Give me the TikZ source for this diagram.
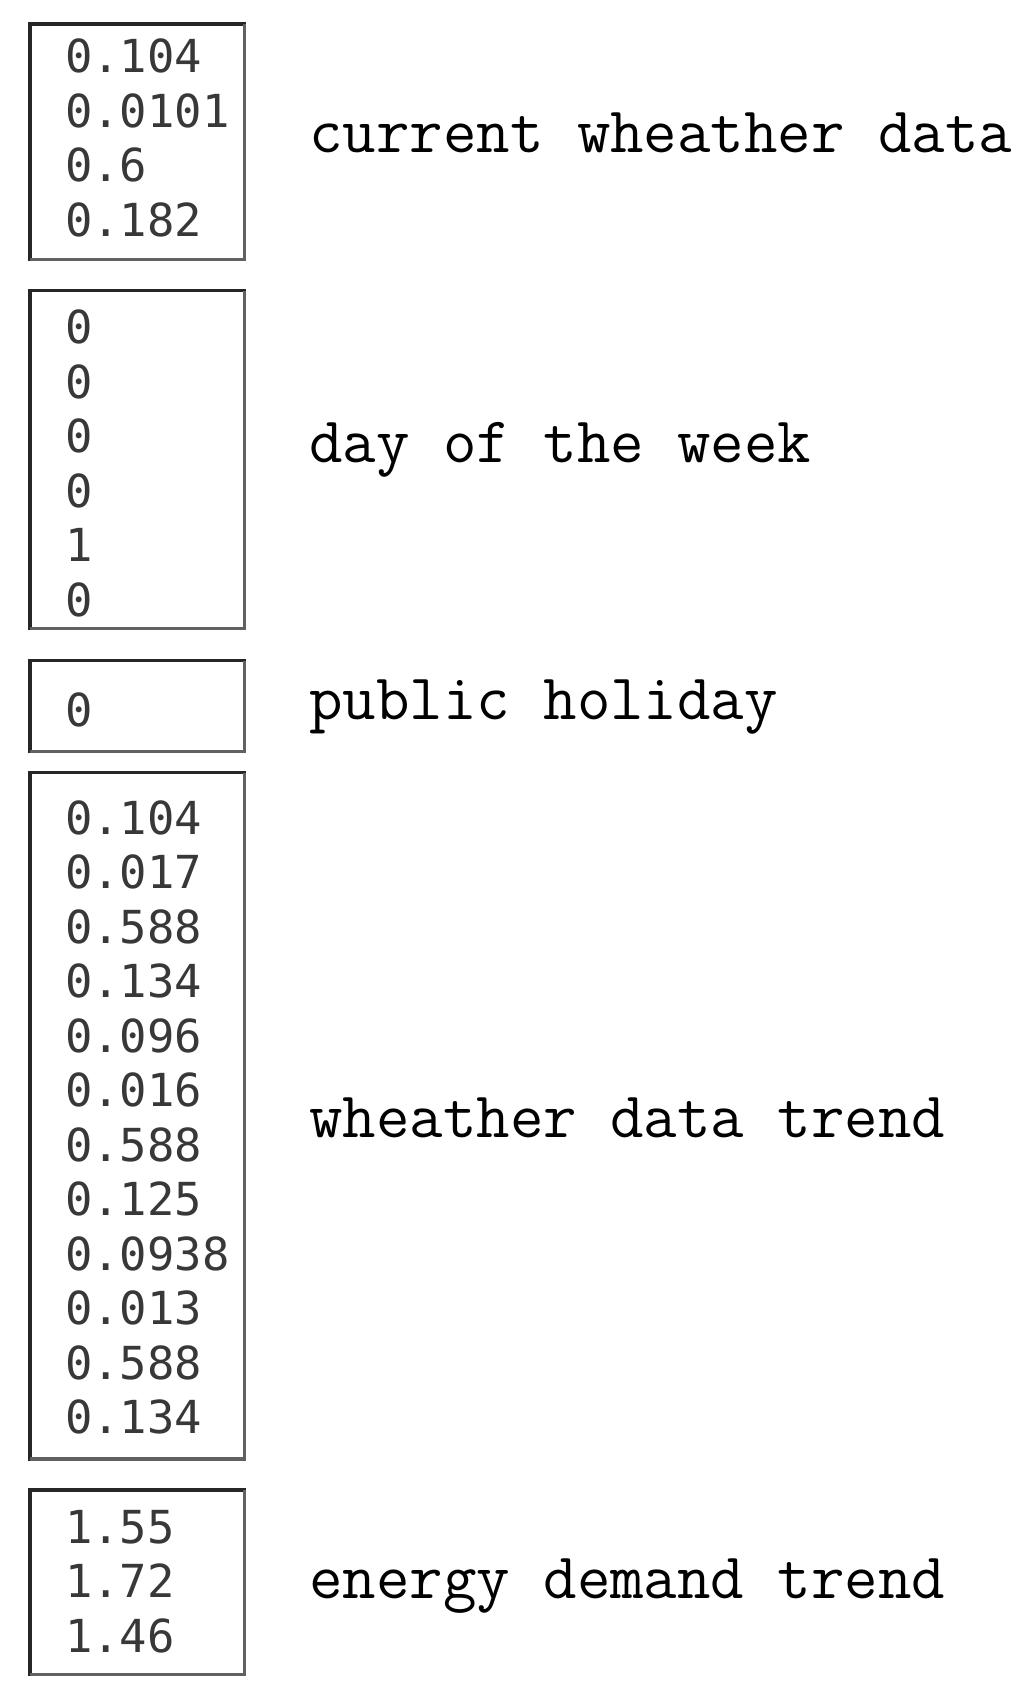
\documentclass[tikz,border=0pt]{standalone}
\usepackage{fontspec}
\newfontfamily\numfont{DejaVu Sans Mono}
\usepackage{tikz}

\tikzset{
  databox/.style={draw=black!85, line width=3.2pt, minimum width=214.5pt, outer sep=0pt, inner sep=0pt},
  boxshade/.style={draw=black!62, line width=3.2pt},
  values/.style={anchor=base west, align=left, inner sep=0pt, text=black!78, font=\numfont\fontsize{45.5}{54.5}\selectfont},
  tag/.style={anchor=base west, inner sep=0pt, font=\ttfamily\fontsize{65}{70}\selectfont}
}

\begin{document}
\begin{tikzpicture}[x=1pt,y=-1pt]
				\useasboundingbox (0,0) rectangle (1030,1702);
				% Define left edges of the numbers and of the labels.
				\def\numx{65}      %left of the numbers
				\def\tagx{309}     %left of the labels
				
				% Boxes.
				\node[databox, minimum height=235.5pt] (weather) at (137.25,141.75) {};
				\node[databox, minimum height=338pt] (weekday) at (137.25,459.5) {};
				\node[databox, minimum height=91pt] (holiday) at (137.25,706) {};
				\node[databox, minimum height=686.5pt] (trend) at (137.25,1115.75) {};
				\node[databox, minimum height=184.7pt] (demand) at (137.25,1582.35) {};
				
				% Lighter right and bottom edges.
				\draw[boxshade] (weather.north east) -- (weather.south east) -- (weather.south west);
				\draw[boxshade] (weekday.north east) -- (weekday.south east) -- (weekday.south west);
				\draw[boxshade] (holiday.north east) -- (holiday.south east) -- (holiday.south west);
				\draw[boxshade] (trend.north east) -- (trend.south east) -- (trend.south west);
				\draw[boxshade] (demand.north east) -- (demand.south east) -- (demand.south west);
				
				% Values inside the boxes (base = baseline of the last line).
				\node[values] (weathervals) at (\numx,236) {0.104\\0.0101\\0.6\\0.182};
				\node[values] (weekdayvals) at (\numx,616) {0\\0\\0\\0\\1\\0};
				\node[values] (holidayvals) at (\numx,726) {0};
				\node[values] (trendvals) at (\numx,1433.5) {0.104\\0.017\\0.588\\0.134\\0.096\\0.016\\0.588\\0.125\\0.0938\\0.013\\0.588\\0.134};
				\node[values] (demandvals) at (\numx,1652) {1.55\\1.72\\1.46};
				
				% Labels.
				\node[tag] (weathertag) at (\tagx,152) {current wheather data};
				\node[tag] (weekdaytag) at (\tagx,462) {day of the week};
				\node[tag] (holidaytag) at (\tagx,719) {public holiday};
				\node[tag] (trendtag) at (\tagx,1137) {wheather data trend};
				\node[tag] (demandtag) at (\tagx,1598) {energy demand trend};
				
\end{tikzpicture}
\end{document}
